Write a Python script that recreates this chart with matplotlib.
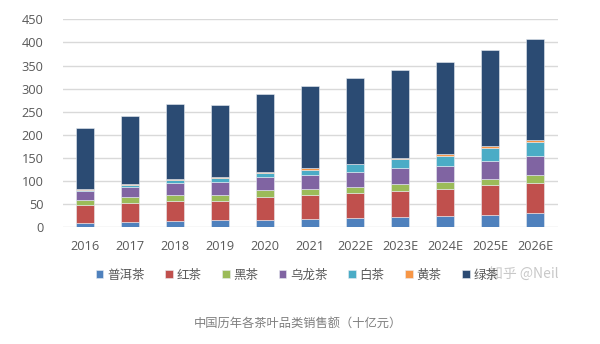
import matplotlib
matplotlib.use("Agg")
import matplotlib.pyplot as plt
import numpy as np

plt.rcParams['font.family'] = ['Noto Sans CJK SC', 'DejaVu Sans']

# ── data (十亿元) ─────────────────────────────────────────────────
years = ["2016", "2017", "2018", "2019", "2020", "2021",
         "2022E", "2023E", "2024E", "2025E", "2026E"]
puer   = [10, 12, 14, 16, 16, 19, 20, 22, 25, 27, 32]
hong   = [38, 40, 43, 40, 50, 51, 55, 57, 59, 64, 65]
hei    = [11, 14, 14, 15, 14, 14, 13, 14, 15, 13, 16]
wulong = [19, 22, 26, 28, 28, 30, 32, 35, 34, 40, 42]
bai    = [3, 4, 5, 7, 10, 11, 16, 20, 22, 27, 30]
huang  = [1, 1, 2, 2, 2, 3, 2, 3, 3, 4, 3]
lv     = [132, 147, 162, 157, 169, 177, 184, 190, 200, 208, 219]

names = ["普洱茶", "红茶", "黑茶", "乌龙茶", "白茶", "黄茶", "绿茶"]
series = [puer, hong, hei, wulong, bai, huang, lv]
colors = ["#4F81BD", "#C0504D", "#9BBB59", "#8064A2",
          "#4BACC6", "#F79646", "#2B4B73"]

# ── figure ────────────────────────────────────────────────────────
fig = plt.figure(figsize=(6.0, 3.44), dpi=100)
ax = fig.add_axes([0.1045, 0.339, 0.8255, 0.605])

x = np.arange(len(years))
bottom = np.zeros(len(years))
handles = []
for vals, c, n in zip(series, colors, names):
    b = ax.bar(x, vals, 0.4, bottom=bottom, color=c, label=n,
               edgecolor="#E8ECF2", linewidth=0.4, zorder=3)
    handles.append(b)
    bottom += np.array(vals)

ax.set_xlim(-0.5, 10.5)
ax.set_ylim(0, 450)
ax.set_yticks(range(0, 451, 50))
ax.set_xticks(x)
ax.set_xticklabels(years)
ax.grid(axis="y", color="#D9D9D9", linewidth=1.0, zorder=0)
for s in ax.spines.values():
    s.set_visible(False)
ax.tick_params(length=0, labelsize=9.2, labelcolor="#595959")
ax.tick_params(axis="y", pad=14)
ax.tick_params(axis="x", pad=9)
for lab in ax.get_xticklabels() + ax.get_yticklabels():
    lab.set_family(["Open Sans", "DejaVu Sans"])

leg = fig.legend(handles=handles, labels=names, loc="center left",
                 bbox_to_anchor=(0.141, 0.2), ncol=7, frameon=False,
                 handlelength=0.6, handleheight=0.6, handletextpad=0.3,
                 columnspacing=1.65, fontsize=9)
for t in leg.get_texts():
    t.set_color("#595959")

fig.text(0.815, 0.2, "知乎 @Neil", fontsize=10, color="#BFBFBF",
         ha="left", va="center", alpha=0.85)
fig.text(0.497, 0.061, "中国历年各茶叶品类销售额（十亿元）", fontsize=8.8,
         color="#7F7F7F", ha="center", va="center")

fig.savefig("out.png", dpi=100)
